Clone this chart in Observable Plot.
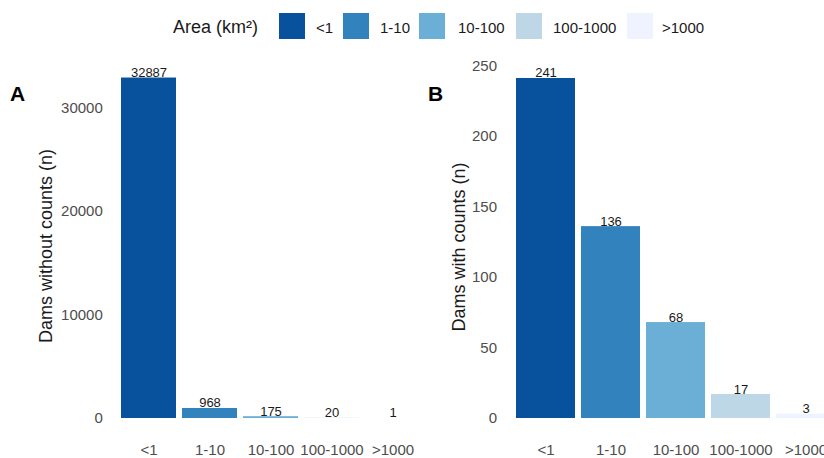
<!DOCTYPE html>
<html>
<head>
<meta charset="utf-8">
<script src="https://cdn.jsdelivr.net/npm/d3@7"></script>
<script src="https://cdn.jsdelivr.net/npm/@observablehq/plot@0.6"></script>
<style>
  html, body { margin: 0; padding: 0; background: #fff; overflow: hidden; }
  #root { position: relative; width: 824px; height: 458px; overflow: hidden; font-family: "Liberation Sans", Arial, sans-serif; }
  .abs { position: absolute; }
  .leg-title { font-size: 18px; color: #1a1a1a; line-height: 1; }
  .leg-label { font-size: 15px; color: #1a1a1a; line-height: 1; }
  .sw { width: 26px; height: 26px; }
  .panel-letter { font-size: 21px; font-weight: bold; color: #000; line-height: 1; }
  .ytitle { font-size: 18px; color: #1a1a1a; line-height: 20px; height: 20px; width: 300px; text-align: center; transform: rotate(-90deg); transform-origin: 50% 50%; white-space: nowrap; }
</style>
</head>
<body>
<div id="root"></div>
<script>
// ---- data ----
const categories = ["<1", "1-10", "10-100", "100-1000", ">1000"];
const withoutCounts = [32887, 968, 175, 20, 1];
const withCounts = [241, 136, 68, 17, 3];
const colors = ["#08519c", "#3182bd", "#6baed6", "#bdd7e7", "#eff3ff"];
const ticksA = [0, 10000, 20000, 30000];
const ticksB = [0, 50, 100, 150, 200, 250];
const legendTitle = "Area (km²)";
const titleA = "Dams without counts (n)";
const titleB = "Dams with counts (n)";

const dataA = categories.map((c, i) => ({cat: c, n: withoutCounts[i]}));
const dataB = categories.map((c, i) => ({cat: c, n: withCounts[i]}));

const root = document.getElementById("root");
const font = "'Liberation Sans', Arial, sans-serif";

function el(cls, text, left, top) {
  const d = document.createElement("div");
  d.className = "abs " + cls;
  if (text != null) d.textContent = text;
  d.style.left = left + "px";
  d.style.top = top + "px";
  root.appendChild(d);
  return d;
}

// ---- legend (HTML) ----
el("leg-title", legendTitle, 173, 18);
const swX = [279, 343, 419, 516, 627];
const lbX = [316, 380, 458, 553, 662];
categories.forEach((c, i) => {
  const s = el("sw", null, swX[i], 13);
  s.style.background = colors[i];
  el("leg-label", c, lbX[i], 20);
});

// ---- panels ----
function panel({data, width, marginLeft, range, domain, marginTop, ticks}) {
  return Plot.plot({
    width, height: 408,
    marginLeft, marginRight: 0, marginTop, marginBottom: 40,
    style: {fontFamily: font, background: "transparent", overflow: "visible"},
    x: {domain: categories, range, padding: 0.1, label: null},
    y: {domain, label: null},
    color: {domain: categories, range: colors},
    marks: [
      Plot.barY(data, {x: "cat", y: "n", fill: "cat"}),
      Plot.text(data, {x: "cat", y: "n", text: d => String(d.n), lineAnchor: "bottom", dy: -1, fontSize: 13, fill: "#1a1a1a"}),
      Plot.axisX({tickSize: 0, tickPadding: 26, fontSize: 15, color: "#4d4d4d", label: null}),
      Plot.axisY({ticks, tickSize: 0, tickPadding: 12, fontSize: 15, color: "#4d4d4d", label: null, tickFormat: d => String(d)})
    ]
  });
}

const pA = panel({data: dataA, width: 430, marginLeft: 114.3, range: [114.3, 426.7], domain: [0, 34000], marginTop: 16, ticks: ticksA});
pA.style.position = "absolute"; pA.style.left = "0px"; pA.style.top = "50px";
root.appendChild(pA);

const pB = panel({data: dataB, width: 394, marginLeft: 78.5, range: [78.5, 412], domain: [0, 258], marginTop: 4, ticks: ticksB});
pB.style.position = "absolute"; pB.style.left = "430px"; pB.style.top = "50px"; pB.style.maxWidth = "none";
root.appendChild(pB);

// rotated y-axis titles, centred at (cx, cy)
function ytitle(text, cx, cy) {
  el("ytitle", text, cx - 150, cy - 10);
}
ytitle(titleA, 46, 246);
ytitle(titleB, 459, 247);

el("panel-letter", "A", 10, 83);
el("panel-letter", "B", 428, 83);
</script>
</body>
</html>
